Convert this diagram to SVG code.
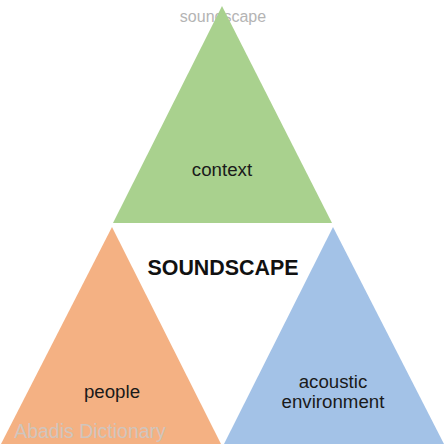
<svg xmlns="http://www.w3.org/2000/svg" width="446" height="448" viewBox="0 0 446 448">
<style>
text{font-family:"Liberation Sans",Arial,sans-serif;text-anchor:middle}
.lbl{font-size:18.7px;fill:#1a1a1a}
</style>
<rect width="446" height="448" fill="#ffffff"/>
<text x="223" y="22" font-size="16" fill="#b4b4b4">soundscape</text>
<g id="context">
<polygon points="222,6 332,223 113,223" fill="#a9d18e"/>
<text class="lbl" x="222" y="176">context</text>
</g>
<g id="people">
<polygon points="112,227 221,444 1,444" fill="#f4b183"/>
<text class="lbl" x="112" y="398">people</text>
</g>
<g id="acoustic">
<polygon points="333,227 444,444 224,444" fill="#a3c2e7"/>
<text class="lbl" x="333" y="388">acoustic</text>
<text class="lbl" x="333" y="408">environment</text>
</g>
<g id="connectors"></g>
<text x="223" y="275" font-size="21.4" font-weight="bold" fill="#111">SOUNDSCAPE</text>
<text x="90" y="438" font-size="19.5" fill="#c9c9c9" fill-opacity="0.85">Abadis Dictionary</text>
</svg>
